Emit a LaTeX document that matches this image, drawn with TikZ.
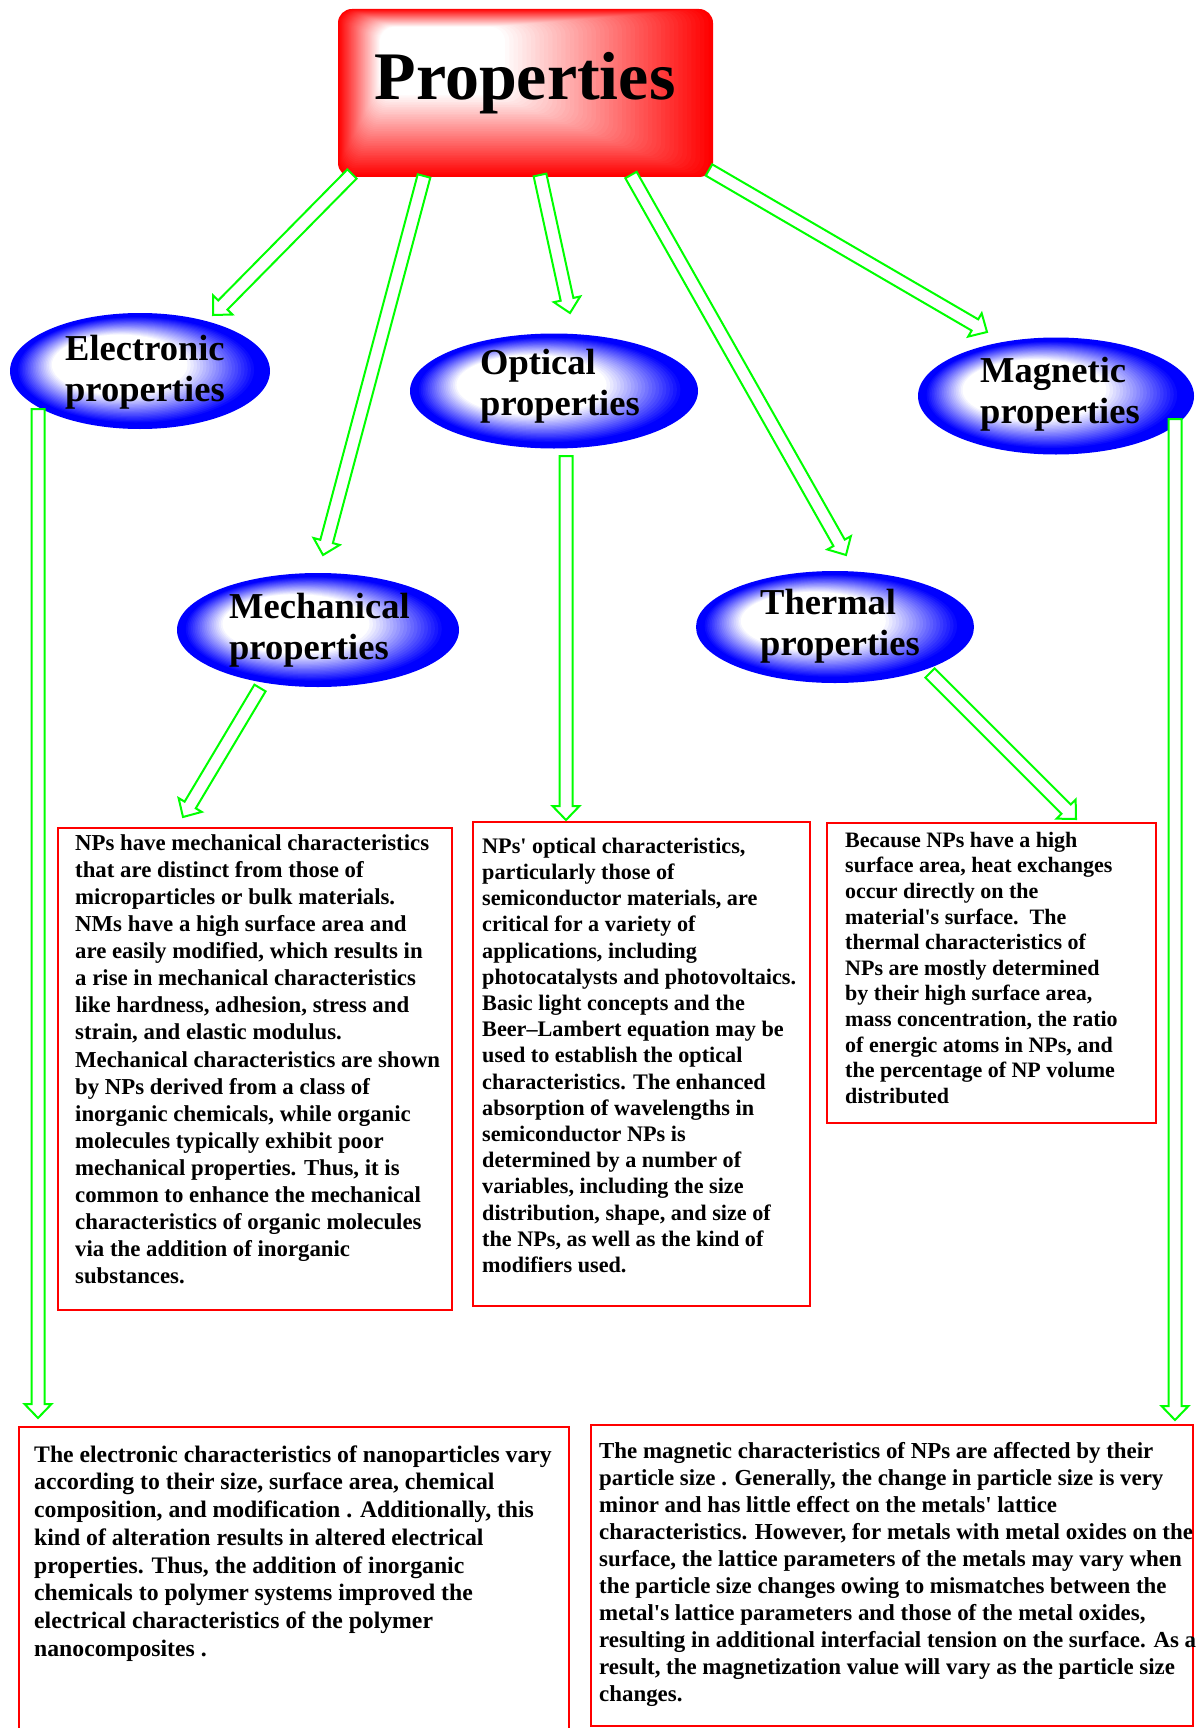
\documentclass[tikz,border=0pt]{standalone}
\usepackage{fontspec}
\setmainfont{Liberation Serif}
\usetikzlibrary{calc,shapes.geometric}
\definecolor{arrgreen}{RGB}{0,255,0}
\definecolor{boxred}{RGB}{255,0,0}
\definecolor{ellblue}{RGB}{0,0,255}
\tikzset{
  ellnode/.style={ellipse, inner sep=0pt},
  elltext/.style={anchor=north west, align=left, inner sep=0pt, font=\fontsize{36.5}{41}\selectfont\bfseries},
  textbox/.style={draw=boxred, line width=2.5pt},
  boxtext/.style={anchor=north west, align=left, inner sep=0pt},
  blockarr/.style={draw=arrgreen, fill=white, line width=2pt, line join=miter}
}
\newcommand{\barrow}[2]{%
  \coordinate (tmpN) at ($(#2)!14pt!(#1)$);
  \draw[blockarr] ($(#1)!6.5pt!90:(#2)$) -- ($(tmpN)!6.5pt!90:(#2)$) -- ($(tmpN)!13.5pt!90:(#2)$) -- (#2) -- ($(tmpN)!13.5pt!-90:(#2)$) -- ($(tmpN)!6.5pt!-90:(#2)$) -- ($(#1)!6.5pt!-90:(#2)$) -- cycle;}
% path gradient for the ellipses: nested ellipses from blue rim to white highlight
\newcommand{\ellfill}[4]{%
  \foreach \i in {0,...,50}{%
    \pgfmathsetmacro\t{\i/50}%
    \pgfmathsetmacro\ex{#1-0.3*#3*\t}%
    \pgfmathsetmacro\ey{#2-0.2*#4*\t}%
    \pgfmathsetmacro\ea{#3*(1-0.92*\t)}%
    \pgfmathsetmacro\eb{#4*(1-0.92*\t)}%
    \pgfmathsetmacro\p{100*min(max((0.52-\t)/0.44,0),1)}%
    \fill[ellblue!\p!white] (\ex,\ey) ellipse [x radius=\ea, y radius=\eb];
  }}
\begin{document}
\begin{tikzpicture}[x=1pt,y=-1pt]
\useasboundingbox (0,0) rectangle (1200,1728);
\clip (0,0) rectangle (1200,1728);
\fill[white] (0,0) rectangle (1200,1728);

% ---- Properties box (path gradient built from nested rounded rectangles)
\node[minimum width=375, minimum height=168, inner sep=0pt] (props) at (525.5,93) {};
\foreach \i in {0,...,48}{
  \pgfmathsetmacro\t{\i/48}
  \pgfmathsetmacro\xa{338+(380-338)*\t}
  \pgfmathsetmacro\ya{9+(27-9)*\t}
  \pgfmathsetmacro\xb{713+(505-713)*\t}
  \pgfmathsetmacro\yb{177+(95-177)*\t}
  \pgfmathsetmacro\r{100*(1-\t)}
  \fill[boxred!\r!white, rounded corners=14pt] (\xa,\ya) rectangle (\xb,\yb);
}
\node[anchor=base, inner sep=0pt, font=\fontsize{68}{80}\selectfont\bfseries] (propsT) at (525,100) {Properties};

% ---- ellipses
\node[ellnode, minimum width=260, minimum height=116] (elec) at (140,371) {};
\ellfill{140}{371}{130}{58}
\node[elltext] (elecT) at (65,333) {\rule{0pt}{27pt}Electronic\\properties};
\node[ellnode, minimum width=288, minimum height=115] (opt) at (554,391) {};
\ellfill{554}{391}{144}{57.5}
\node[elltext] (optT) at (480,347) {\rule{0pt}{27pt}Optical\\properties};
\node[ellnode, minimum width=276, minimum height=117] (mag) at (1056,396) {};
\ellfill{1056}{396}{138}{58.5}
\node[elltext] (magT) at (980,355) {\rule{0pt}{27pt}Magnetic\\properties};
\node[ellnode, minimum width=282, minimum height=114] (mech) at (318,630) {};
\ellfill{318}{630}{141}{57}
\node[elltext] (mechT) at (229,591) {\rule{0pt}{27pt}Mechanical\\properties};
\node[ellnode, minimum width=278, minimum height=112] (therm) at (835,627) {};
\ellfill{835}{627}{139}{56}
\node[elltext] (thermT) at (760,587) {\rule{0pt}{27pt}Thermal\\properties};

% ---- text boxes
\draw[textbox] (58,828) rectangle (452,1310) node[pos=0, inner sep=0pt] (mechbox) {};
\node[boxtext, font=\fontsize{22.8}{27.1}\selectfont\bfseries] (mechtxt) at (75,832) {\rule{0pt}{18pt}NPs have mechanical characteristics\\
that are distinct from those of\\
microparticles or bulk materials.\\
NMs have a high surface area and\\
are easily modified, which results in\\
a rise in mechanical characteristics\\
like hardness, adhesion, stress and\\
strain, and elastic modulus.\\
Mechanical characteristics are shown\\
by NPs derived from a class of\\
inorganic chemicals, while organic\\
molecules typically exhibit poor\\
mechanical properties. Thus, it is\\
common to enhance the mechanical\\
characteristics of organic molecules\\
via the addition of inorganic\\
substances.};

\draw[textbox] (473,822) rectangle (810,1306) node[pos=0, inner sep=0pt] (optbox) {};
\node[boxtext, font=\fontsize{22.2}{26.2}\selectfont\bfseries] (opttxt) at (482,835) {\rule{0pt}{18pt}NPs\textquotesingle{} optical characteristics,\\
particularly those of\\
semiconductor materials, are\\
critical for a variety of\\
applications, including\\
photocatalysts and photovoltaics.\\
Basic light concepts and the\\
Beer--Lambert equation may be\\
used to establish the optical\\
characteristics. The enhanced\\
absorption of wavelengths in\\
semiconductor NPs is\\
determined by a number of\\
variables, including the size\\
distribution, shape, and size of\\
the NPs, as well as the kind of\\
modifiers used.};

\draw[textbox] (827,823) rectangle (1156,1123) node[pos=0, inner sep=0pt] (thermbox) {};
\node[boxtext, font=\fontsize{22}{25.6}\selectfont\bfseries] (thermtxt) at (845,829) {\rule{0pt}{18pt}Because NPs have a high\\
surface area, heat exchanges\\
occur directly on the\\
material\textquotesingle s surface.\ \ The\\
thermal characteristics of\\
NPs are mostly determined\\
by their high surface area,\\
mass concentration, the ratio\\
of energic atoms in NPs, and\\
the percentage of NP volume\\
distributed};

\draw[textbox] (19,1427) rectangle (569,1745) node[pos=0, inner sep=0pt] (elecbox) {};
\node[boxtext, font=\fontsize{23.7}{27.7}\selectfont\bfseries] (electxt) at (34,1443) {\rule{0pt}{19pt}The electronic characteristics of nanoparticles vary\\
according to their size, surface area, chemical\\
composition, and modification . Additionally, this\\
kind of alteration results in altered electrical\\
properties. Thus, the addition of inorganic\\
chemicals to polymer systems improved the\\
electrical characteristics of the polymer\\
nanocomposites .};

\draw[textbox] (591,1425) rectangle (1193,1726) node[pos=0, inner sep=0pt] (magbox) {};
\node[boxtext, font=\fontsize{22.9}{27}\selectfont\bfseries] (magtxt) at (599,1440) {\rule{0pt}{18pt}The magnetic characteristics of NPs are affected by their\\
particle size . Generally, the change in particle size is very\\
minor and has little effect on the metals\textquotesingle{} lattice\\
characteristics. However, for metals with metal oxides on the\\
surface, the lattice parameters of the metals may vary when\\
the particle size changes owing to mismatches between the\\
metal\textquotesingle s lattice parameters and those of the metal oxides,\\
resulting in additional interfacial tension on the surface. As a\\
result, the magnetization value will vary as the particle size\\
changes.};

% ---- arrow end points
\coordinate (a1s) at (352,174);  \coordinate (a1e) at (213,315);
\coordinate (a2s) at (424,176);  \coordinate (a2e) at (323,555);
\coordinate (a3s) at (540,175);  \coordinate (a3e) at (570,313);
\coordinate (a4s) at (631,175);  \coordinate (a4e) at (846,555);
\coordinate (a5s) at (709,170);  \coordinate (a5e) at (987,332);
\coordinate (a6s) at (38,409);   \coordinate (a6e) at (38,1418);
\coordinate (a7s) at (566,456);  \coordinate (a7e) at (566,820);
\coordinate (a8s) at (1175,419); \coordinate (a8e) at (1175,1420);
\coordinate (a9s) at (260,688);  \coordinate (a9e) at (183,817);
\coordinate (a10s) at (930,673); \coordinate (a10e) at (1076,819);

\barrow{a1s}{a1e}
\barrow{a2s}{a2e}
\barrow{a3s}{a3e}
\barrow{a4s}{a4e}
\barrow{a5s}{a5e}
\barrow{a6s}{a6e}
\barrow{a7s}{a7e}
\barrow{a8s}{a8e}
\barrow{a9s}{a9e}
\barrow{a10s}{a10e}
\end{tikzpicture}
\end{document}
